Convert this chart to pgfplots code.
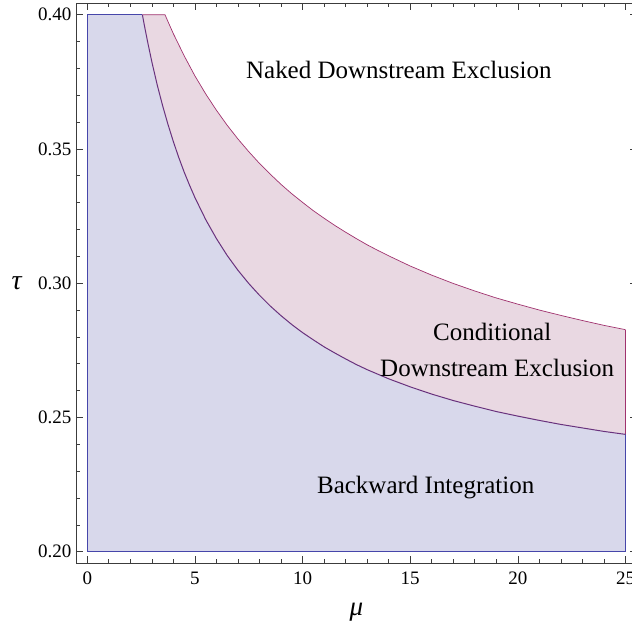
\documentclass[border=0pt]{standalone}
\usepackage{fontspec}
\setmainfont{Liberation Serif}
\usepackage{pgfplots}
\usepackage{pgfplotstable}
\pgfplotsset{compat=1.18}
\usepgfplotslibrary{fillbetween}
\definecolor{bluefill}{RGB}{216,216,235}
\definecolor{pinkfill}{RGB}{233,216,226}
\definecolor{blueline}{RGB}{70,70,170}
\definecolor{pinkline}{RGB}{160,50,110}
\definecolor{mixline}{RGB}{105,50,125}
\definecolor{framecol}{RGB}{60,60,60}

\pgfplotstableread{
x y
0 0.4
2.56 0.4
2.65 0.3961
2.8 0.3900
3.0 0.3824
3.25 0.3738
3.5 0.3661
3.75 0.3591
4.0 0.3527
4.25 0.3468
4.5 0.3414
4.75 0.3365
5.0 0.3319
5.5 0.3237
6.0 0.3166
6.5 0.3103
7.0 0.3048
7.5 0.2999
8.0 0.2955
8.5 0.2915
9.0 0.2879
9.5 0.2846
10.0 0.2816
10.5 0.2789
11.0 0.2763
11.5 0.2740
12.0 0.2718
12.5 0.2697
13.0 0.2678
14.0 0.2644
15.0 0.2614
16.0 0.2587
17.0 0.2563
18.0 0.2542
19.0 0.2522
20.0 0.2505
21.0 0.2489
22.0 0.2474
23.0 0.2461
24.0 0.2448
25.0 0.2437
}\lowerb

\pgfplotstableread{
x y
2.56 0.4
3.61 0.4
3.8 0.3965
4.0 0.3929
4.5 0.3847
5.0 0.3772
5.5 0.3705
6.0 0.3644
6.5 0.3588
7.0 0.3537
7.5 0.3490
8.0 0.3446
8.5 0.3406
9.0 0.3368
9.5 0.3333
10.0 0.3301
10.5 0.3270
11.0 0.3242
11.5 0.3215
12.0 0.3190
12.5 0.3166
13.0 0.3143
13.5 0.3122
14.0 0.3102
15.0 0.3064
16.0 0.3030
17.0 0.2999
18.0 0.2971
19.0 0.2945
20.0 0.2922
21.0 0.2900
22.0 0.2880
23.0 0.2861
24.0 0.2843
25.0 0.2827
}\upperb

\begin{document}
\begin{tikzpicture}
\begin{axis}[
  width=561pt, height=560pt, scale only axis,
  xmin=-0.525, xmax=25.525, ymin=0.19568, ymax=0.40417,
  xtick={0,5,10,15,20,25},
  ytick={0.20,0.25,0.30,0.35,0.40},
  minor x tick num=4, minor y tick num=4,
  tick align=inside,
  major tick length=7pt, minor tick length=4pt,
  axis line style={framecol, line width=0.8pt},
  every tick/.style={framecol, line width=0.7pt},
  /pgf/number format/assume math mode=true,
  yticklabel style={/pgf/number format/fixed, /pgf/number format/precision=2, /pgf/number format/fixed zerofill, font=\fontsize{19}{22}\selectfont, xshift=-1pt},
  xticklabel style={font=\fontsize{19}{22}\selectfont, yshift=-5pt},
  scaled y ticks=false,
  xlabel={\textit{μ}}, ylabel={\textit{τ}},
  every axis x label/.style={at={(rel axis cs:0.5,0)}, anchor=center, inner sep=0pt, yshift=-49pt, font=\fontsize{27}{30}\selectfont},
  every axis y label/.style={at={(rel axis cs:0,0.5)}, anchor=center, inner sep=0pt, xshift=-59pt, font=\fontsize{28}{30}\selectfont},
]
\addplot[name path=L, draw=none] table {\lowerb};
\addplot[name path=U, draw=none] table {\upperb};
\addplot[name path=B, draw=none] coordinates {(0,0.2) (25,0.2)};
\addplot[fill=bluefill, draw=none] fill between[of=L and B];
\addplot[fill=pinkfill, draw=none] fill between[of=U and L];
\addplot[blueline, line width=0.7pt] coordinates {(0,0.4) (2.56,0.4)};
\addplot[blueline, line width=0.7pt] coordinates {(0,0.4) (0,0.2) (25,0.2) (25,0.2437)};
\addplot[pinkline, line width=0.7pt] coordinates {(25,0.2437) (25,0.2827)};
\addplot[pinkline, line width=0.7pt, line join=round] table {\upperb};
\addplot[mixline, line width=1.0pt, line join=round, restrict x to domain=2.56:25] table {\lowerb};
\node[anchor=base, font=\fontsize{25}{28}\selectfont] at (axis cs:14.47,0.3763) {Naked Downstream Exclusion};
\node[anchor=base, font=\fontsize{25}{28}\selectfont] at (axis cs:18.81,0.2788) {Conditional};
\node[anchor=base, font=\fontsize{25}{28}\selectfont] at (axis cs:19.04,0.2654) {Downstream Exclusion};
\node[anchor=base, font=\fontsize{25}{28}\selectfont] at (axis cs:15.72,0.2215) {Backward Integration};
\end{axis}
\pgfresetboundingbox
\path ([shift={(-76pt,-72.7pt)}]current axis.south west) rectangle ([shift={(-5pt,3.5pt)}]current axis.north east);
\end{tikzpicture}
\end{document}
